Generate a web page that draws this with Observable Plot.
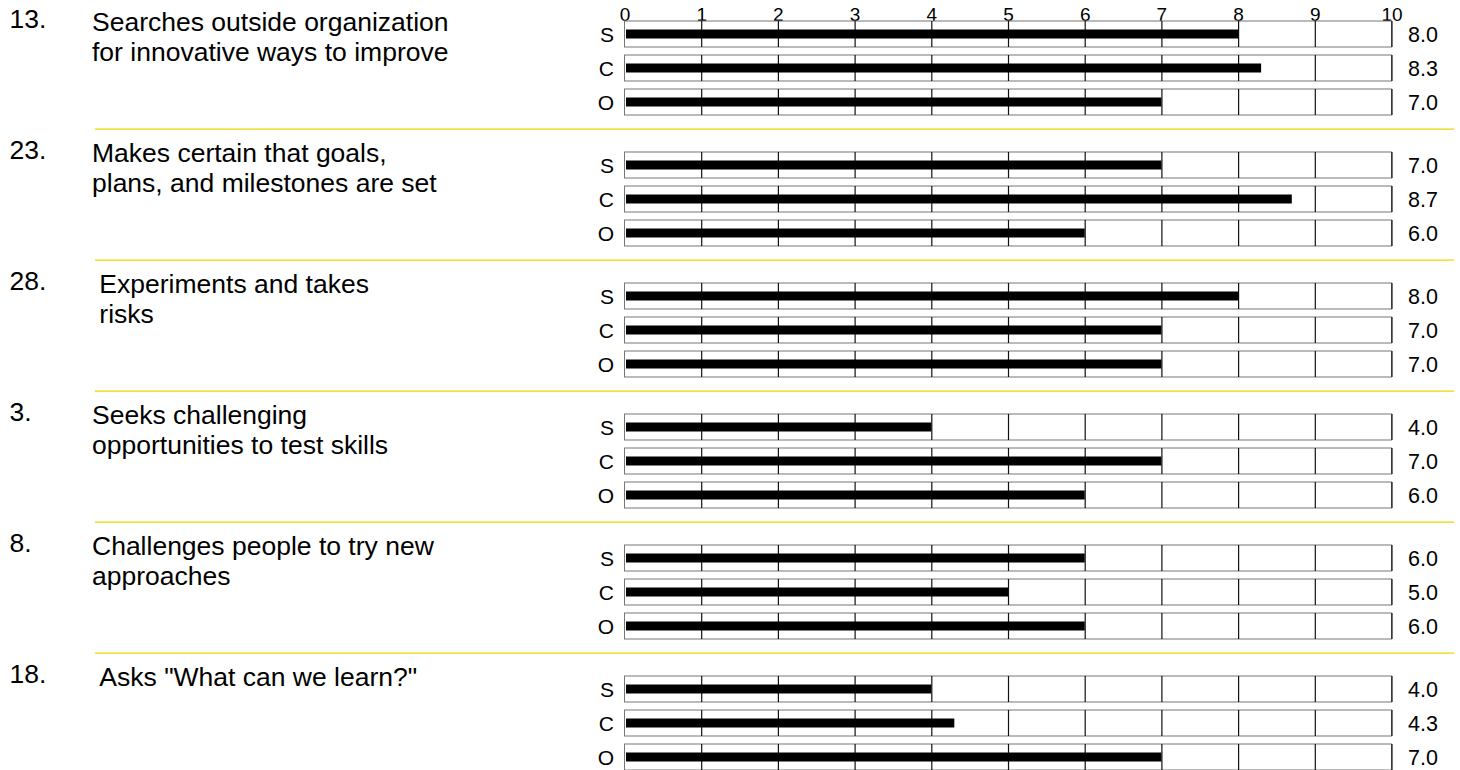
<!DOCTYPE html>
<html>
<head>
<meta charset="utf-8">
<script src="https://cdn.jsdelivr.net/npm/d3@7"></script>
<script src="https://cdn.jsdelivr.net/npm/@observablehq/plot@0.6"></script>
<style>
  html, body { margin: 0; padding: 0; background: #fff; overflow: hidden; }
  #wrap { width: 1460px; height: 770px; overflow: hidden; }
</style>
</head>
<body>
<div id="wrap"></div>
<script>
// ---- data ----
const itemNumbers = ["13.", "23.", "28.", "3.", "8.", "18."];
const itemLabels = [
  "Searches outside organization\nfor innovative ways to improve",
  "Makes certain that goals,\nplans, and milestones are set",
  "\u00a0Experiments and takes\n\u00a0risks",
  "Seeks challenging\nopportunities to test skills",
  "Challenges people to try new\napproaches",
  "\u00a0Asks \"What can we learn?\""
];
const raters = ["S", "C", "O"];
const sScores = [8.0, 7.0, 8.0, 4.0, 6.0, 4.0];
const cScores = [8.3, 8.7, 7.0, 7.0, 5.0, 4.3];
const oScores = [7.0, 6.0, 7.0, 6.0, 6.0, 7.0];
const xTicks = [0, 1, 2, 3, 4, 5, 6, 7, 8, 9, 10];
const xDomain = [0, 10];

// ---- tables built from the arrays ----
const scoreSets = [sScores, cScores, oScores];
const groups = itemNumbers.map((n, i) => ({num: n, label: itemLabels[i]}));
const rows = itemNumbers.flatMap((n, i) =>
  raters.map((r, j) => ({group: n, rater: r, value: scoreSets[j][i]})));
const gridRows = rows.flatMap(d => xTicks.slice(1).map(t => ({group: d.group, rater: d.rater, x: t})));
const separators = groups.slice(0, groups.length - 1);

const FONT = '"Liberation Sans", Arial, Helvetica, sans-serif';

const chart = Plot.plot({
  width: 1460,
  height: 807,
  marginTop: 21,
  marginBottom: 0,
  marginLeft: 624.5,
  marginRight: 68.5,
  style: {fontFamily: FONT, background: "#fff", color: "#000"},
  x: {domain: xDomain, axis: null},
  y: {domain: raters, paddingInner: 0.227, paddingOuter: 0.523, align: 0, axis: null},
  fy: {domain: itemNumbers, padding: 0, axis: null},
  marks: [
    Plot.axisX(xTicks, {anchor: "top", tickSize: 0, tickPadding: 1, fontSize: 19, label: null, fill: "#000", fontFamily: FONT}),
    // separators
    Plot.ruleY(separators, {fy: "num", y: () => "O", dy: 26.6, stroke: "#f0d400", strokeWidth: 1.4,
      insetLeft: -529.5, insetRight: -62.5}),
    // boxes
    Plot.barX(rows, {fy: "group", y: "rater", x1: () => xDomain[0], x2: () => xDomain[1],
      fill: "none", stroke: "#777", strokeWidth: 1}),
    // grid lines within boxes
    Plot.tickX(gridRows, {fy: "group", y: "rater", x: "x", stroke: "#111", strokeWidth: 1.2}),
    // bars
    Plot.barX(rows, {fy: "group", y: "rater", x1: () => xDomain[0], x2: "value", fill: "#000",
      insetTop: 8.5, insetBottom: 8.5, insetLeft: 1.5}),
    // rater labels
    Plot.text(rows, {fy: "group", y: "rater", text: "rater", frameAnchor: "left", dx: -11, dy: 1,
      textAnchor: "end", fontSize: 21, fill: "#000"}),
    // value labels
    Plot.text(rows, {fy: "group", y: "rater", text: d => d.value.toFixed(1), frameAnchor: "right", dx: 16, dy: 1,
      textAnchor: "start", fontSize: 21.5, fill: "#000"}),
    // item numbers
    Plot.text(groups, {fy: "num", text: "num", frameAnchor: "top-left", lineAnchor: "top", dx: -615.5, dy: -12,
      textAnchor: "start", fontSize: 26.5, fill: "#000"}),
    // item labels
    Plot.text(groups, {fy: "num", text: "label", frameAnchor: "top-left", lineAnchor: "top", dx: -533, dy: -12,
      textAnchor: "start", fontSize: 26.5, lineHeight: 1.14, fill: "#000"})
  ]
});
document.getElementById("wrap").appendChild(chart);
</script>
</body>
</html>
